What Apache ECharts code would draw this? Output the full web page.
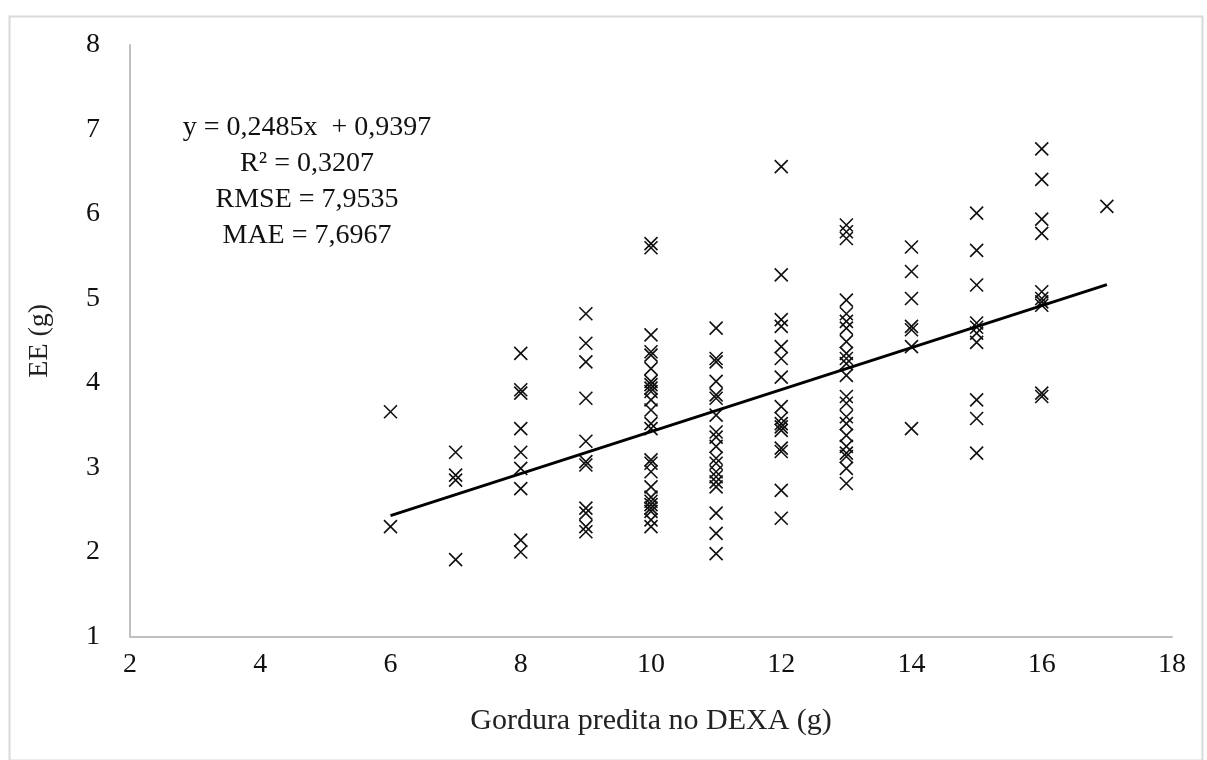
<!DOCTYPE html>
<html>
<head>
<meta charset="utf-8">
<script src="https://cdn.jsdelivr.net/npm/echarts@6/dist/echarts.min.js"></script>
<style>
html,body{margin:0;padding:0;background:#fff;}
#chart{width:1207px;height:760px;}
</style>
</head>
<body>
<div id="chart"></div>
<script>
// Observed values per x category (Gordura predita no DEXA, g)
const x6  = [3.66, 2.30];
const x7  = [3.18, 2.91, 2.85, 1.91];
const x8  = [4.35, 3.92, 3.88, 3.46, 3.18, 2.99, 2.75, 2.14, 2.00];
const x9  = [4.82, 4.47, 4.25, 3.82, 3.31, 3.07, 3.03, 2.52, 2.46, 2.30, 2.24];
const x10 = [5.65, 5.60, 4.57, 4.37, 4.33, 4.17, 4.02, 3.98, 3.94, 3.90, 3.80, 3.68, 3.52, 3.46, 3.09, 3.05, 2.95, 2.77, 2.65, 2.60, 2.56, 2.52, 2.48, 2.38, 2.30];
const x11 = [4.65, 4.29, 4.25, 4.02, 3.86, 3.82, 3.62, 3.42, 3.36, 3.25, 3.11, 3.05, 2.95, 2.89, 2.83, 2.77, 2.46, 2.22, 1.98];
const x12 = [6.56, 5.28, 4.75, 4.67, 4.43, 4.29, 4.07, 3.72, 3.58, 3.52, 3.48, 3.44, 3.23, 3.19, 2.73, 2.40];
const x13 = [5.87, 5.79, 5.71, 4.98, 4.82, 4.73, 4.65, 4.49, 4.35, 4.29, 4.23, 4.09, 3.84, 3.76, 3.60, 3.52, 3.38, 3.25, 3.17, 3.13, 2.99, 2.81];
const x14 = [5.61, 5.32, 5.00, 4.67, 4.63, 4.43, 3.46];
const x15 = [6.01, 5.57, 5.16, 4.71, 4.66, 4.59, 4.48, 3.80, 3.58, 3.17];
const x16 = [6.77, 6.41, 5.94, 5.77, 5.08, 5.00, 4.96, 4.92, 3.88, 3.84];
const x17 = [6.09];
const groups = [[6,x6],[7,x7],[8,x8],[9,x9],[10,x10],[11,x11],[12,x12],[13,x13],[14,x14],[15,x15],[16,x16],[17,x17]];

// Trend line endpoints (y = 0,2485x + 0,9397)
const trendX = [6, 17];
const trendY = [2.431, 5.164];

const annotation = ['y = 0,2485x  + 0,9397', 'R² = 0,3207', 'RMSE = 7,9535', 'MAE = 7,6967'];
const xName = 'Gordura predita no DEXA (g)';
const yName = 'EE (g)';

const points = [];
groups.forEach(([x, arr]) => arr.forEach(v => points.push([x, v])));

const FONT = '"Liberation Serif", "Times New Roman", serif';
const chart = echarts.init(document.getElementById('chart'), null, {renderer: 'canvas'});
chart.setOption({
  backgroundColor: '#fff',
  animation: false,
  grid: {left: 130, top: 45, right: 35, bottom: 123.5, containLabel: false},
  xAxis: {
    type: 'value', min: 2, max: 18, interval: 2,
    name: xName, nameLocation: 'middle', nameGap: 70,
    nameTextStyle: {fontFamily: FONT, fontSize: 30, color: '#222'},
    axisLine: {show: true, lineStyle: {color: '#c0c0c0', width: 2}},
    axisTick: {show: false},
    splitLine: {show: false},
    axisLabel: {fontFamily: FONT, fontSize: 28, color: '#111', margin: 14}
  },
  yAxis: {
    type: 'value', min: 1, max: 8, interval: 1,
    name: yName, nameLocation: 'middle', nameGap: 76,
    nameTextStyle: {fontFamily: FONT, fontSize: 28, color: '#222'},
    axisLine: {show: true, lineStyle: {color: '#c0c0c0', width: 2}},
    axisTick: {show: false},
    splitLine: {show: false},
    axisLabel: {fontFamily: FONT, fontSize: 28, color: '#111', margin: 30}
  },
  graphic: [
    {type: 'rect', left: 7, top: 14, shape: {width: 1193, height: 744},
     style: {fill: 'none', stroke: '#d9d9d9', lineWidth: 2}, silent: true, z: -1},
    {type: 'text', x: 307, y: 110,
     style: {text: annotation.join('\n'), fontFamily: FONT, fontSize: 28, lineHeight: 36,
             fill: '#111', textAlign: 'center'}}
  ],
  series: [
    {
      type: 'scatter',
      data: points,
      symbol: 'path://M0,0L10,10M10,0L0,10',
      symbolSize: 13,
      itemStyle: {color: 'none', borderColor: '#111', borderWidth: 1.6, opacity: 1}
    },
    {
      type: 'line',
      data: trendX.map((x, i) => [x, trendY[i]]),
      symbol: 'none',
      lineStyle: {color: '#000', width: 3}
    }
  ]
});
</script>
</body>
</html>
